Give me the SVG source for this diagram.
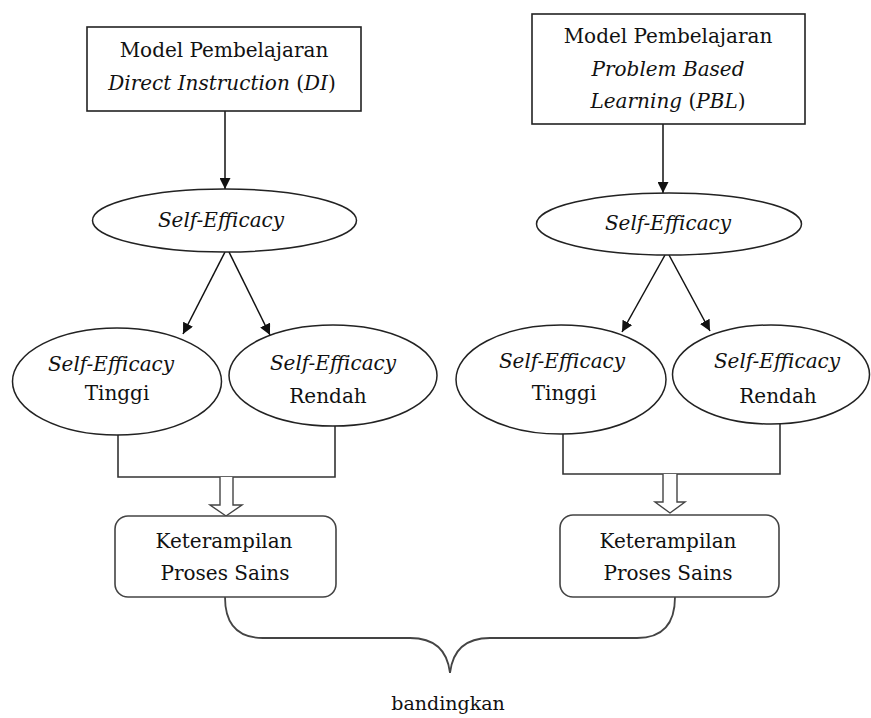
<svg xmlns="http://www.w3.org/2000/svg" width="871" height="718" viewBox="0 0 871 718">
<defs>
<marker id="ah" viewBox="0 0 10 10" refX="10" refY="5" markerWidth="11" markerHeight="11" markerUnits="userSpaceOnUse" orient="auto">
<path d="M0,0 L10,5 L0,10 Z" fill="#111"/>
</marker>
</defs>
<style>
.t{font-family:"DejaVu Serif","Liberation Serif",serif;font-size:20px;fill:#111;text-anchor:middle}
.i{font-style:italic}
.box{fill:#fff;stroke:#222;stroke-width:1.6}
.rbox{fill:#fff;stroke:#444;stroke-width:1.6}
.ell{fill:#fff;stroke:#222;stroke-width:1.5}
.ln{fill:none;stroke:#111;stroke-width:1.5}
.br{fill:none;stroke:#333;stroke-width:1.6}
.hol{fill:#fff;stroke:#444;stroke-width:1.4}
.brace{fill:none;stroke:#444;stroke-width:1.8}
</style>
<rect width="871" height="718" fill="#fff"/>

<g id="connectors">
<line class="ln" x1="225" y1="111" x2="225" y2="189" marker-end="url(#ah)"/>
<line class="ln" x1="663" y1="124" x2="663" y2="193" marker-end="url(#ah)"/>
<line class="ln" x1="225" y1="252" x2="183" y2="334" marker-end="url(#ah)"/>
<line class="ln" x1="229" y1="252" x2="270" y2="335" marker-end="url(#ah)"/>
<line class="ln" x1="665" y1="255" x2="622" y2="332" marker-end="url(#ah)"/>
<line class="ln" x1="669" y1="255" x2="710" y2="331" marker-end="url(#ah)"/>
<path class="br" d="M118 435 V477 H335 V426"/>
<path class="br" d="M563 434 V474 H780 V424"/>
<path class="hol" d="M220 477 V505 H210 L226 516 L242 505 H233 V477"/>
<path class="hol" d="M663 474 V502 H655 L670 513 L685 502 H677 V474"/>
<path class="brace" d="M225 597 Q225 638 263 638 L410 638 Q446 638 450 673 Q454 638 490 638 L637 638 Q675 638 675 597"/>
</g>

<g id="box-di">
<rect class="box" x="87" y="27" width="274" height="84"/>
<text class="t" x="224" y="57">Model Pembelajaran</text>
<text class="t" x="222" y="90"><tspan class="i">Direct Instruction</tspan> (<tspan class="i">DI</tspan>)</text>
</g>

<g id="box-pbl">
<rect class="box" x="532" y="14" width="273" height="110"/>
<text class="t" x="668" y="43">Model Pembelajaran</text>
<text class="t i" x="668" y="76">Problem Based</text>
<text class="t" x="668" y="108"><tspan class="i">Learning</tspan> (<tspan class="i">PBL</tspan>)</text>
</g>

<g id="se-di">
<ellipse class="ell" cx="224.5" cy="220.5" rx="132" ry="31.5"/>
<text class="t i" x="221" y="227">Self-Efficacy</text>
</g>

<g id="se-pbl">
<ellipse class="ell" cx="669" cy="224" rx="132.5" ry="31"/>
<text class="t i" x="668" y="230">Self-Efficacy</text>
</g>

<g id="se-di-tinggi">
<ellipse class="ell" cx="117" cy="381.5" rx="104.5" ry="53.5"/>
<text class="t i" x="111" y="371">Self-Efficacy</text>
<text class="t" x="117" y="400">Tinggi</text>
</g>

<g id="se-di-rendah">
<ellipse class="ell" cx="333" cy="375.5" rx="104" ry="50.5"/>
<text class="t i" x="333" y="370">Self-Efficacy</text>
<text class="t" x="328" y="403">Rendah</text>
</g>

<g id="se-pbl-tinggi">
<ellipse class="ell" cx="561" cy="379.5" rx="105" ry="54.5"/>
<text class="t i" x="562" y="368">Self-Efficacy</text>
<text class="t" x="564" y="400">Tinggi</text>
</g>

<g id="se-pbl-rendah">
<ellipse class="ell" cx="771" cy="374.5" rx="98.5" ry="49.5"/>
<text class="t i" x="777" y="368">Self-Efficacy</text>
<text class="t" x="778" y="403">Rendah</text>
</g>

<g id="kps-di">
<rect class="rbox" x="115" y="516" width="221" height="81" rx="13"/>
<text class="t" x="224" y="548">Keterampilan</text>
<text class="t" x="225" y="580">Proses Sains</text>
</g>

<g id="kps-pbl">
<rect class="rbox" x="560" y="515" width="219" height="82" rx="13"/>
<text class="t" x="668" y="548">Keterampilan</text>
<text class="t" x="668" y="580">Proses Sains</text>
</g>

<g id="label-bandingkan">
<text class="t" x="448" y="710" style="font-size:19px">bandingkan</text>
</g>
</svg>
